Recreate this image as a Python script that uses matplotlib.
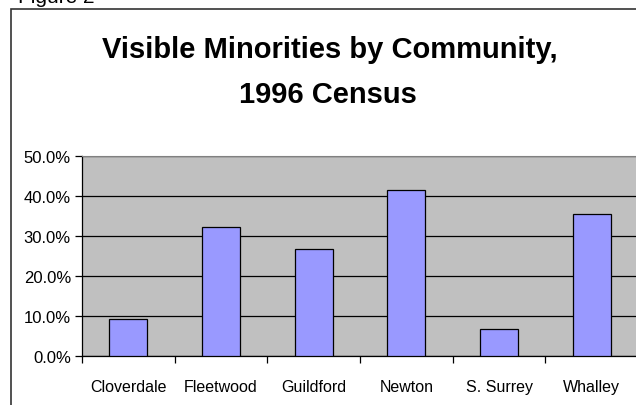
import numpy as np
import matplotlib.pyplot as plt
from matplotlib.patches import Rectangle
from matplotlib.ticker import FuncFormatter

communities = ['Cloverdale', 'Fleetwood', 'Guildford', 'Newton', 'S. Surrey', 'Whalley']
visible_minorities = [9.3, 32.2, 26.8, 41.5, 6.6, 35.6]
y_ticks = [0, 10, 20, 30, 40, 50]

plt.rcParams['font.family'] = ['Liberation Sans', 'DejaVu Sans']

W, H = 636, 406
fig = plt.figure(figsize=(W / 100, H / 100), dpi=100)

# outer chart frame (partly cut off at right and bottom)
fig.patches.append(Rectangle((11 / W, -0.1), 1.2, 1.1 - 10 / H,
                             transform=fig.transFigure, fill=False,
                             edgecolor='#333333', linewidth=1.2))

# caption of the document, mostly cut off at the top
fig.text(18 / W, 1 - 3 / H, 'Figure 2', fontsize=15, ha='left', va='baseline')

fig.text(330 / W, 1 - 58 / H, 'Visible Minorities by Community,', fontsize=21,
         fontweight='bold', ha='center', va='baseline')
fig.text(328 / W, 1 - 103 / H, '1996 Census', fontsize=21,
         fontweight='bold', ha='center', va='baseline')

ax = fig.add_axes([82 / W, 49.3 / H, 556 / W, 199.5 / H])
ax.set_facecolor('#C0C0C0')

x = np.arange(len(communities))
ax.bar(x, visible_minorities, width=0.41, color='#9999FF',
       edgecolor='black', linewidth=0.9, zorder=3)

ax.set_xlim(-0.5, len(communities) - 0.5)
ax.set_ylim(0, 50)
ax.set_yticks(y_ticks)
ax.yaxis.set_major_formatter(FuncFormatter(lambda v, p: f'{v:.1f}%'))
ax.grid(axis='y', color='black', linewidth=0.9, zorder=1)

ax.set_xticks(x)
ax.set_xticklabels(communities)
ax.set_xticks(np.arange(-0.5, len(communities)), minor=True)
ax.tick_params(axis='x', which='major', length=0, pad=17, labelsize=11.5)
ax.tick_params(axis='x', which='minor', length=5, width=0.9, direction='out')
ax.tick_params(axis='y', length=5, width=0.9, pad=3, labelsize=12)

for side in ['left', 'bottom']:
    ax.spines[side].set_color('black')
    ax.spines[side].set_linewidth(0.9)
ax.spines['top'].set_color('#808080')
ax.spines['right'].set_visible(False)

fig.savefig('out.png', dpi=100)
